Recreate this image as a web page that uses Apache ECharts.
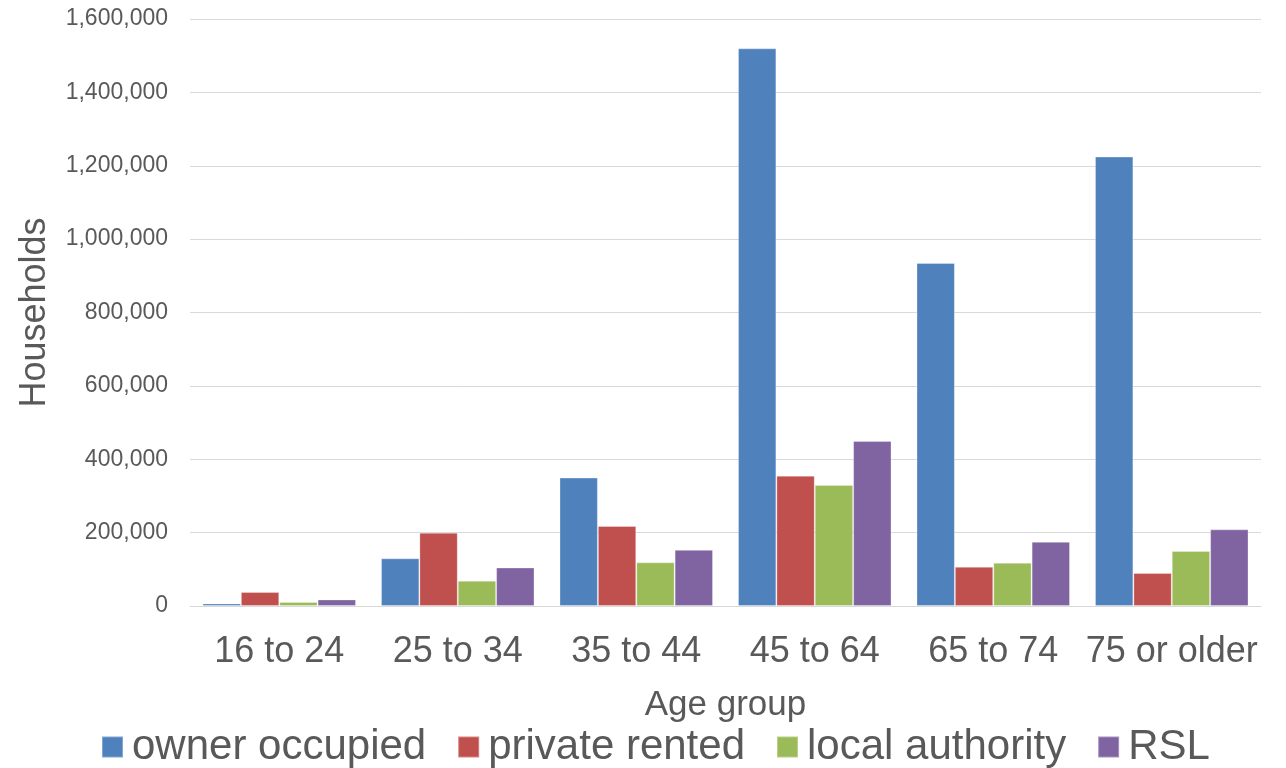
<!DOCTYPE html>
<html>
<head>
<meta charset="utf-8">
<script src="https://cdn.jsdelivr.net/npm/echarts@6/dist/echarts.min.js"></script>
<style>
  html, body { margin: 0; padding: 0; background: #fff; }
  #chart { width: 1286px; height: 768px; }
</style>
</head>
<body>
<div id="chart"></div>
<script>
// Households by age group and tenure
const ageGroups = ['16 to 24', '25 to 34', '35 to 44', '45 to 64', '65 to 74', '75 or older'];
const ownerOccupied = [7000, 130000, 350000, 1520000, 935000, 1225000];
const privateRented = [38000, 200000, 218000, 355000, 107000, 90000];
const localAuthority = [11000, 69000, 119000, 330000, 118000, 150000];
const rsl = [18000, 105000, 153000, 450000, 175000, 209000];
const seriesNames = ['owner occupied', 'private rented', 'local authority', 'RSL'];
const seriesColors = ['#4F81BD', '#C0504D', '#9BBB59', '#8064A2'];

const FONT = '"Liberation Sans", Arial, sans-serif';
const TEXT = '#595959';

const chart = echarts.init(document.getElementById('chart'), null, { renderer: 'canvas' });

const values = [ownerOccupied, privateRented, localAuthority, rsl];

chart.setOption({
  animation: false,
  backgroundColor: '#ffffff',
  textStyle: { fontFamily: FONT },
  grid: { left: 190, right: 25, top: 19, bottom: 162, containLabel: false },
  legend: {
    data: seriesNames,
    left: 101,
    top: 726,
    padding: 0,
    itemWidth: 21,
    itemHeight: 21,
    itemGap: 31,
    icon: 'rect',
    textStyle: { fontFamily: FONT, fontSize: 42, color: TEXT, padding: [0, 0, 0, 4] }
  },
  xAxis: {
    type: 'category',
    data: ageGroups,
    name: 'Age group',
    nameLocation: 'middle',
    nameGap: 82,
    nameTextStyle: { fontFamily: FONT, fontSize: 35, color: TEXT },
    axisLine: { show: true, lineStyle: { color: '#d9d9d9', width: 1 } },
    axisTick: { show: false },
    axisLabel: { interval: 0, fontFamily: FONT, fontSize: 36, color: TEXT, margin: 28 }
  },
  yAxis: {
    type: 'value',
    min: 0,
    max: 1600000,
    interval: 200000,
    name: 'Households',
    nameLocation: 'middle',
    nameGap: 137,
    nameTextStyle: { fontFamily: FONT, fontSize: 36, color: TEXT },
    axisLine: { show: false },
    axisTick: { show: false },
    splitLine: { show: true, lineStyle: { color: '#d9d9d9', width: 1 } },
    axisLabel: {
      fontFamily: FONT, fontSize: 23, color: TEXT, margin: 22,
      formatter: v => v.toLocaleString('en-US')
    }
  },
  series: seriesNames.map((name, i) => ({
    name: name,
    type: 'bar',
    data: values[i],
    barGap: '0%',
    barCategoryGap: '14%',
    itemStyle: {
      color: seriesColors[i],
      borderColor: 'rgba(255,255,255,0.3)',
      borderWidth: 1
    }
  }))
});
</script>
</body>
</html>
